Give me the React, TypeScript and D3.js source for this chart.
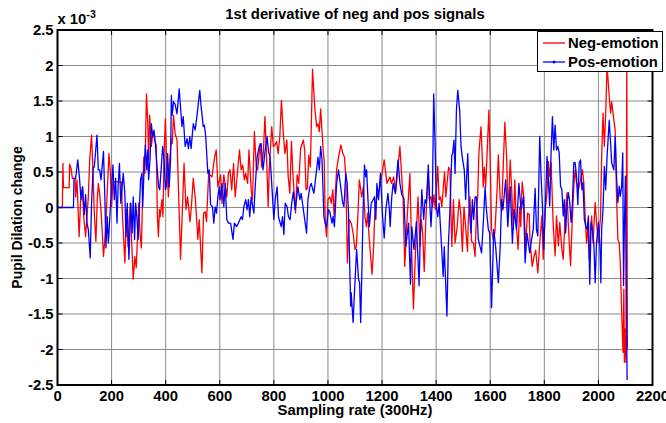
import React from "react";
import * as d3 from "d3";

// Sample index (x axis) and value (in units of 1e-3) for each series
const negSamples = [0,18,20,22,43,45,50,55,65,67,72,80,85,92,97,104,109,114,119,126,131,136,142,147,151,157,163,170,175,180,190,195,200,205,237,239,249,255,261,269,273,280,286,291,296,300,305,310,315,319,323,329,334,337,341,347,353,359,365,369,373,377,380,386,390,394,399,403,410,415,421,424,429,435,442,455,468,475,481,490,495,502,510,519,524,534,540,546,551,559,564,571,581,587,593,603,608,615,620,626,632,638,644,651,657,673,679,685,691,696,703,708,716,721,728,735,740,749,755,761,767,773,779,783,792,798,804,810,816,822,828,835,841,848,853,859,865,871,880,886,892,899,909,914,919,924,929,935,943,951,958,963,968,973,983,986,990,995,1000,1007,1012,1018,1023,1032,1039,1048,1055,1061,1066,1072,1078,1086,1093,1100,1105,1110,1116,1125,1131,1137,1142,1147,1152,1163,1169,1174,1180,1192,1208,1218,1229,1235,1243,1250,1257,1266,1272,1278,1284,1293,1303,1309,1316,1324,1333,1340,1345,1350,1356,1362,1370,1375,1381,1387,1392,1397,1406,1411,1416,1421,1431,1436,1446,1451,1458,1464,1470,1478,1485,1491,1497,1503,1509,1516,1519,1525,1531,1538,1544,1549,1554,1558,1566,1571,1574,1578,1583,1590,1595,1600,1605,1611,1617,1625,1630,1637,1642,1654,1661,1666,1674,1679,1685,1691,1697,1703,1709,1713,1718,1724,1730,1738,1744,1747,1755,1762,1768,1776,1783,1791,1796,1803,1809,1815,1820,1825,1833,1840,1845,1852,1857,1865,1870,1877,1884,1889,1897,1902,1909,1914,1919,1926,1934,1941,1946,1951,1956,1961,1966,1971,1975,1980,1988,1993,2000,2008,2012,2017,2022,2027,2032,2040,2045,2049,2054,2062,2067,2072,2077,2081,2086,2091,2094,2096,2099,2102,2105,2107];
const negValues = [0,0,0.62,0.28,0.28,0.61,0.55,0.41,0.41,0.15,0.39,-0.41,0.06,0.29,-0.13,-0.41,-0.13,0.15,0.67,1.02,0.53,-0.08,-0.48,0.11,0.34,0.15,-0.17,-0.69,-0.45,-0.13,0.76,0.53,0.01,0.36,0.36,0,-0.78,-0.03,-0.55,0.06,-0.36,-1.01,-0.69,-0.85,-0.41,0.06,-0.36,-0.57,0.2,0.71,0.48,1.6,1.18,0.67,1.3,0.86,1.07,0.95,0.88,-0.08,-0.41,-0.03,-0.13,0.11,-0.13,0.76,1.25,0.71,0.15,0.67,0.97,0.9,1.3,1.04,0.95,-0.73,0.62,-0.03,0.15,-0.2,0.01,0.41,0.11,-0.45,-0.17,-0.92,-0.08,-0.06,-0.2,0.48,0.46,0.43,0.71,0.81,0.29,0.46,0.06,0.46,0.32,0.15,0.48,0.53,0.25,0.62,0.15,0.81,0.53,0.6,0.39,0.48,0.34,0.81,0.25,0.11,1.07,0.57,0.53,0.9,0.57,0.76,1.28,0.71,0.01,0.53,1.14,0.86,0.88,0.93,0.76,1.0,1.51,1.04,0.76,0.95,0.43,0.2,0.93,0.43,-0.08,0.46,0.34,0.83,0.95,0.81,0.25,0.27,0.74,0.57,1.95,1.42,1.14,1.18,1.07,1.39,0.76,0.67,-0.22,-0.41,0.11,0.15,0.06,0.25,-0.13,0.53,0.71,0.88,0.76,0.71,0.43,-0.78,-0.17,-0.22,-0.36,-0.59,-0.55,-0.17,0.39,0.15,0.29,-0.13,-0.27,-0.08,-0.41,-0.94,-0.55,0.01,0.13,0.29,0.67,0.34,0.43,0.34,0.43,0.2,0.48,0.86,0.48,0.11,-0.83,-0.13,0.48,-0.55,-1.43,-0.59,0.15,-0.55,-0.17,-0.36,-0.9,-0.17,0.48,0.11,0.15,0.01,0.18,-0.03,0.58,0.11,0.15,0.01,0.5,0.15,0.57,0.53,-0.55,0.11,-0.5,-0.27,0.11,-0.08,-0.62,0.01,-0.27,-0.62,-0.17,0.15,-0.48,-0.5,-0.69,-0.08,0.18,0.76,1.14,0.67,0.29,0.57,0.29,0.9,1.37,0.67,-0.31,-0.45,-0.36,0.22,0.74,0.11,-0.06,1.2,0.67,-0.08,0.67,0.29,-0.31,0.39,-0.27,-0.59,0.01,-0.27,0.36,0.15,-0.55,-0.08,-0.1,-0.45,-0.83,-0.69,-0.6,-0.92,-0.5,-0.12,-0.73,-0.03,0.16,0.65,0.44,0.63,-0.26,-0.68,-0.12,-0.54,-0.21,-0.59,-0.73,-0.12,0.21,-0.26,-0.82,-0.31,0.3,0.53,0.35,0.25,0.39,0.53,0.35,-0.12,-0.5,-0.26,-0.73,-0.31,-0.12,-0.5,0.07,-0.21,-0.5,-0.12,0.72,1.33,0.86,1.33,2.0,1.56,1.33,1.49,1.33,1.09,0.16,-0.45,-0.5,-0.78,-1.48,-2.04,-1.15,-2.18,-1.71,-2.18,2.2,-2.0];

const posSamples = [0,59,61,67,75,81,87,93,99,104,109,114,121,126,132,136,146,151,156,161,170,175,179,184,188,191,197,205,210,215,220,224,229,234,243,249,253,258,264,271,276,280,285,289,294,298,303,307,312,315,320,325,330,334,337,342,347,352,357,362,368,374,378,389,394,399,402,407,413,418,421,424,429,435,442,450,460,465,472,479,484,489,494,502,509,516,526,531,539,543,548,556,561,566,573,578,583,588,593,598,601,608,615,620,626,632,640,649,654,662,669,679,684,689,696,701,706,711,716,726,731,738,746,753,760,768,775,780,786,792,800,805,812,817,827,832,837,842,849,854,860,866,872,879,889,896,901,909,921,926,933,938,948,958,963,968,973,978,985,990,995,1002,1007,1015,1019,1024,1032,1039,1047,1054,1059,1066,1071,1076,1084,1086,1093,1098,1106,1113,1117,1121,1125,1130,1135,1140,1143,1148,1153,1160,1167,1172,1177,1181,1187,1194,1202,1208,1214,1222,1227,1230,1236,1241,1249,1259,1266,1273,1281,1288,1298,1305,1310,1318,1327,1337,1342,1347,1354,1359,1364,1371,1376,1381,1386,1391,1396,1401,1406,1411,1416,1426,1430,1440,1445,1450,1458,1461,1466,1470,1475,1480,1487,1492,1498,1504,1509,1517,1522,1529,1534,1539,1544,1549,1556,1568,1575,1581,1586,1593,1598,1605,1613,1620,1630,1637,1642,1647,1657,1665,1670,1674,1682,1689,1697,1706,1714,1723,1729,1736,1746,1753,1759,1766,1771,1776,1778,1783,1788,1793,1798,1803,1810,1815,1820,1825,1830,1835,1840,1845,1850,1855,1860,1865,1870,1874,1879,1884,1889,1894,1899,1904,1909,1914,1919,1924,1929,1934,1939,1943,1948,1953,1958,1963,1968,1973,1978,1983,1988,1993,2000,2005,2009,2012,2017,2022,2027,2032,2040,2045,2049,2057,2062,2067,2072,2077,2081,2086,2090,2093,2096,2100,2106];
const posValues = [0,0,0.41,0.41,0.67,0.43,0.11,0.29,-0.1,0.18,-0.22,-0.31,-0.71,0.06,0.57,0.57,1.02,0.53,0.53,0.39,0.79,0.15,-0.57,-0.13,-0.5,-0.31,0.11,0.6,0.11,0.41,-0.22,0.29,0.62,0.06,0.48,0.2,-0.41,0.06,-0.73,0.06,-0.36,0.15,-0.45,0.06,-0.17,-0.45,0.01,0.39,0.48,0.01,0.53,0.88,0.53,0.81,0.39,0.67,1.18,1.0,1.09,0.9,0.57,0.29,0.25,0.86,0.67,0.25,0.29,0.76,0.29,0.67,1.58,1.3,1.49,1.45,1.32,1.67,1.14,1.28,0.86,0.97,0.83,1.0,0.83,1.18,1.09,1.3,1.65,1.42,1.14,1.16,1.0,0.48,0.53,0.04,0.01,-0.22,0.01,-0.08,0.15,0.29,0.11,0.34,0.01,0.34,-0.17,-0.22,-0.22,-0.45,-0.22,-0.27,-0.22,-0.13,-0.17,0.01,0.11,-0.03,0.11,-0.13,0.15,-0.08,0.29,0.71,0.86,0.9,0.53,0.81,1.0,0.79,0.71,0.34,-0.17,0.11,0.29,-0.13,-0.27,-0.13,-0.38,0.06,0.01,-0.13,-0.17,0.06,0.22,-0.03,0.29,0.11,0.2,-0.03,-0.36,0.11,0.29,0.34,0.2,0.53,0.71,0.53,0.86,0.67,-0.13,-0.22,-0.27,-0.03,-0.06,-0.22,-0.13,-0.27,0.34,0.53,0.29,0.08,0.01,0.48,0.34,-0.08,-1.39,-1.2,-1.62,-1.2,-0.59,-1.01,-1.06,-1.62,-0.97,-0.03,0.6,0.43,0.53,0.11,-0.27,0.06,0.11,0.15,-0.17,0.34,0.11,0.48,-0.13,-0.43,-0.03,0.2,-0.03,-0.27,0.15,0.34,0.2,0.67,0.34,0.18,0.13,-0.55,-0.22,-1.08,-0.27,-0.59,-0.2,-1.1,-0.27,0.25,-0.17,0.11,0.06,0.6,0.11,-0.27,0.11,1.6,0.9,0.01,-0.13,0.06,-0.27,-0.97,-0.55,-1.53,-0.55,-0.13,0.74,0.76,0.95,0.48,1.37,1.65,1.37,0.86,0.67,0.53,0.11,0.76,0.01,-0.36,0.11,-0.17,0.15,0.15,-0.45,-0.64,-0.17,0.29,-0.03,-0.31,-0.36,-1.41,-0.31,-0.55,-1.06,-0.55,0.11,-0.03,0.39,-0.27,0.06,0.29,-0.5,-0.03,-0.31,0.34,-0.03,0.15,-0.78,-0.36,-0.64,-0.45,-0.31,0.27,-0.31,-0.4,0.02,1.0,0.44,0.02,-0.59,-0.07,0.72,0.39,0.02,0.77,1.28,0.81,1.16,0.81,0.86,0.77,0.3,0.25,-0.12,0.11,-0.36,0.07,0.21,0.07,-0.21,0.07,0.63,0.63,0.44,0.04,0.63,0.67,0.25,0.35,-0.17,-0.26,-0.31,-0.12,-1.08,-0.21,-0.31,-0.5,-1.06,-0.5,-0.21,-0.5,-1.06,-0.31,-0.03,0.58,0.25,0.72,1.23,0.91,0.63,0.53,1.0,0.44,0.07,0.3,0.16,0.3,0.77,-1.1,-0.26,0.44,-2.43];

const xTicks = [0,200,400,600,800,1000,1200,1400,1600,1800,2000,2200];
const yTicks = [2.5,2,1.5,1,0.5,0,-0.5,-1,-1.5,-2,-2.5];
const yTickLabels = ["2.5","2","1.5","1","0.5","0","-0.5","-1","-1.5","-2","-2.5"];
const seriesNames = ["Neg-emotion","Pos-emotion"];
const seriesColors = ["#ff0000","#0000ff"];
const titleText = "1st derivative of neg and pos signals";
const xLabel = "Sampling rate (300Hz)";
const yLabel = "Pupil Dilation change";

const W = 666, H = 423;
const L = 57.5, R = 652.5, T = 30, B = 385;
const FONT = "'Liberation Sans', Arial, Helvetica, sans-serif";
const FS = 14;
const SX = 1.06;

function HText(props: { x: number; y: number; anchor?: string; size?: number; children: React.ReactNode }) {
  const { x, y, anchor = "start", size = FS, children } = props;
  return (
    <text transform={`translate(${x},${y}) scale(${SX},1)`} textAnchor={anchor} fontSize={size}>{children}</text>
  );
}

export default function App() {
  const x = d3.scaleLinear().domain([0, 2200]).range([L, R]);
  const y = d3.scaleLinear().domain([-2.5, 2.5]).range([B, T]);
  const line = d3.line<[number, number]>().x(d => x(d[0])).y(d => y(d[1]));
  const negData: [number, number][] = negSamples.map((s, i) => [s, negValues[i]]);
  const posData: [number, number][] = posSamples.map((s, i) => [s, posValues[i]]);
  const tl = 5;
  return (
    <svg width={W} height={H} style={{ position: "absolute", left: 0, top: 0, background: "#fff" }}
      fontFamily={FONT} fontWeight="bold">
      <rect x={0} y={0} width={W} height={H} fill="#fff" />
      <defs>
        <clipPath id="plotClip"><rect x={L} y={T} width={R - L} height={B - T} /></clipPath>
      </defs>
      {xTicks.slice(1, -1).map(t => (
        <line key={"gx" + t} x1={x(t)} x2={x(t)} y1={T} y2={B} stroke="#8a8a8a" strokeWidth={1} />
      ))}
      {yTicks.slice(1, -1).map(t => (
        <line key={"gy" + t} x1={L} x2={R} y1={y(t)} y2={y(t)} stroke="#8a8a8a" strokeWidth={1} />
      ))}
      {xTicks.map(t => (
        <g key={"tx" + t}>
          <line x1={x(t)} x2={x(t)} y1={B} y2={B - tl} stroke="#000" />
          <line x1={x(t)} x2={x(t)} y1={T} y2={T + tl} stroke="#000" />
        </g>
      ))}
      {yTicks.map(t => (
        <g key={"ty" + t}>
          <line x1={L} x2={L + tl} y1={y(t)} y2={y(t)} stroke="#000" />
          <line x1={R} x2={R - tl} y1={y(t)} y2={y(t)} stroke="#000" />
        </g>
      ))}
      <g clipPath="url(#plotClip)">
        <path d={line(negData) || ""} fill="none" stroke={seriesColors[0]} strokeWidth={1.3} strokeLinejoin="round" />
        <path d={line(posData) || ""} fill="none" stroke={seriesColors[1]} strokeWidth={1.3} strokeLinejoin="round" />
      </g>
      <rect x={L} y={T} width={R - L} height={B - T} fill="none" stroke="#000" strokeWidth={2} />
      {xTicks.map(t => (
        <HText key={"lx" + t} x={x(t)} y={B + 16} anchor="middle">{t}</HText>
      ))}
      {yTicks.map((t, i) => (
        <HText key={"ly" + t} x={L - 4} y={y(t) + 5} anchor="end">{yTickLabels[i]}</HText>
      ))}
      <HText x={L} y={24}>x 10<tspan dy={-6} fontSize={10}>-3</tspan></HText>
      <HText x={(L + R) / 2} y={19} anchor="middle">{titleText}</HText>
      <HText x={(L + R) / 2} y={415} anchor="middle">{xLabel}</HText>
      <text transform={`translate(22, ${(T + B) / 2 + 10}) rotate(-90)`} textAnchor="middle" fontSize={FS}>{yLabel}</text>
      <g>
        <rect x={537.5} y={31.5} width={125} height={40} fill="#fff" stroke="#000" strokeWidth={1} />
        <line x1={543} x2={565} y1={43} y2={43} stroke={seriesColors[0]} strokeWidth={1.3} />
        <HText x={568} y={48}>{seriesNames[0]}</HText>
        <line x1={543} x2={565} y1={62} y2={62} stroke={seriesColors[1]} strokeWidth={1.3} />
        <circle cx={554} cy={62} r={1.5} fill={seriesColors[1]} />
        <HText x={568} y={67}>{seriesNames[1]}</HText>
      </g>
    </svg>
  );
}
